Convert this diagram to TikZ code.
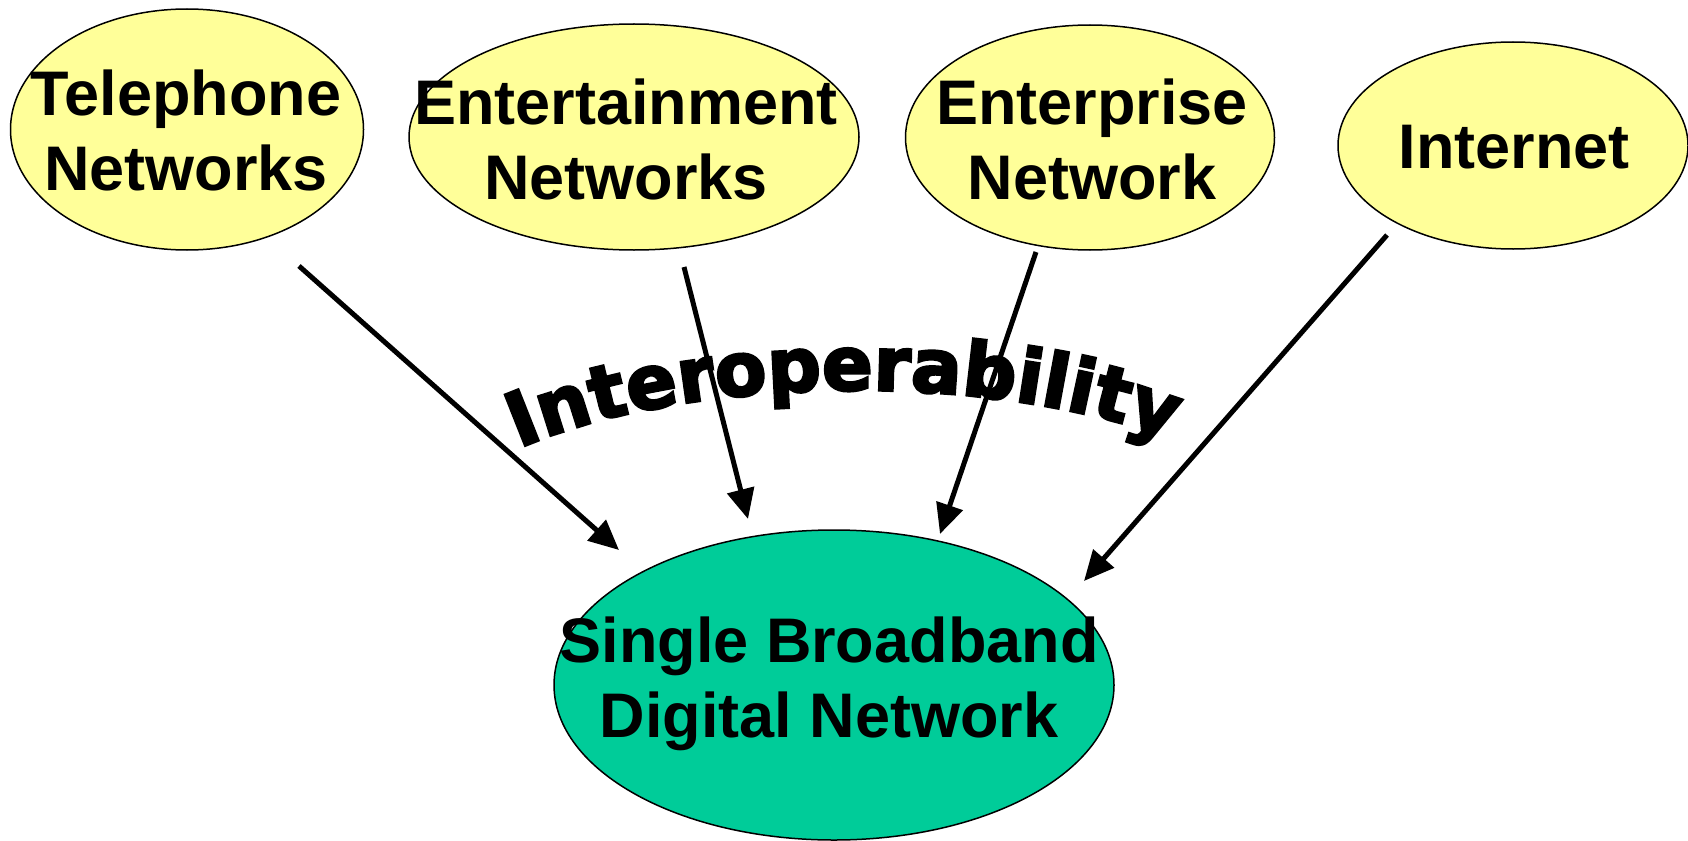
\documentclass[tikz,border=0pt]{standalone}
\usepackage{fontspec}
\setmainfont{Liberation Sans}
\newfontfamily\heavy[FakeBold=3.5]{DejaVu Sans}
\usetikzlibrary{shapes.geometric,arrows.meta,decorations.text}
\definecolor{netyellow}{HTML}{FFFF99}
\definecolor{netgreen}{HTML}{00CC99}
\begin{document}
\begin{tikzpicture}[x=1pt,y=1pt,
  net/.style={ellipse, draw=black, line width=1.5pt, inner sep=0pt},
  src/.style={net, fill=netyellow},
  txt/.style={inner sep=0pt, align=center, font=\fontsize{63}{75}\selectfont\bfseries},
  link/.style={line width=5pt, -{Triangle[length=30pt,width=27pt]}}
]
\useasboundingbox (0,0) rectangle (1688,-840);
% ellipses
\node[src, minimum width=353pt, minimum height=241pt] (tel) at (187,-129.5) {};
\node[src, minimum width=450pt, minimum height=226pt] (ent) at (634,-137) {};
\node[src, minimum width=369pt, minimum height=225pt] (entp) at (1090,-137.5) {};
\node[src, minimum width=350pt, minimum height=207pt] (int) at (1513,-145.5) {};
\node[net, fill=netgreen, minimum width=560pt, minimum height=310pt] (sbdn) at (834,-685) {};
% labels
\node[txt] (telT) at (186,-130) {Telephone\\Networks};
\node[txt] (entT) at (626,-139) {Entertainment\\Networks};
\node[txt] (entpT) at (1092,-139) {Enterprise\\Network};
\node[txt] (intT) at (1514,-147.5) {Internet};
\node[txt] (sbdnT) at (829,-684) {Single Broadband\\Digital Network};
% arched word
\path[decorate, decoration={text along path, text align=center,
  text={|\heavy\bfseries\fontsize{75}{75}\selectfont|Interoperability}}]
  (490,-462) .. controls (670,-368) and (1020,-368) .. (1200,-452);
% connector end points
\coordinate (a1s) at (299,-266);
\coordinate (a1e) at (619,-550);
\coordinate (a2s) at (684,-267);
\coordinate (a2e) at (748,-519);
\coordinate (a3s) at (1036,-252);
\coordinate (a3e) at (940,-534);
\coordinate (a4s) at (1387,-235);
\coordinate (a4e) at (1084,-581);
\draw[link] (a1s) -- (a1e);
\draw[link] (a2s) -- (a2e);
\draw[link] (a3s) -- (a3e);
\draw[link] (a4s) -- (a4e);
\end{tikzpicture}
\end{document}
